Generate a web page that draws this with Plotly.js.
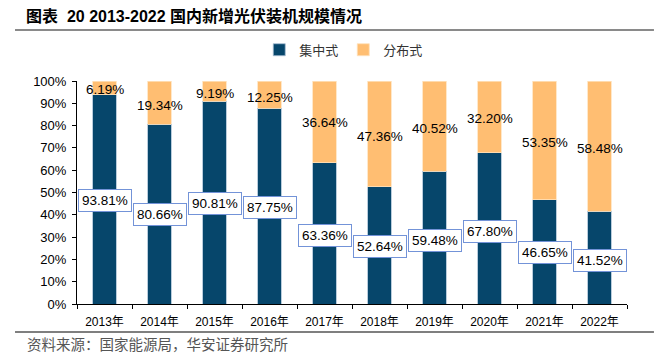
<!DOCTYPE html>
<html>
<head>
<meta charset="utf-8">
<script src="https://cdn.plot.ly/plotly-3.0.1.min.js"></script>
<style>html,body{margin:0;padding:0;background:#fff;}#chart{width:661px;height:357px;}</style>
</head>
<body>
<div id="chart"></div>
<script>
// Data
const years = ['2013年','2014年','2015年','2016年','2017年','2018年','2019年','2020年','2021年','2022年'];
const centralized = [93.81, 80.66, 90.81, 87.75, 63.36, 52.64, 59.48, 67.80, 46.65, 41.52];
const distributed = [6.19, 19.34, 9.19, 12.25, 36.64, 47.36, 40.52, 32.20, 53.35, 58.48];
const seriesNames = ['集中式', '分布式'];
const yTickVals = [0,10,20,30,40,50,60,70,80,90,100];

// Label placement (layout only, in axis units)
const centralLabelY = [46.6, 40.0, 45.1, 43.5, 30.9, 25.6, 28.7, 32.7, 22.9, 19.7];
const distLabelY = [96.0, 89.2, 94.6, 92.8, 81.2, 75.3, 78.9, 83.0, 72.4, 69.8];

const FONT = 'Liberation Sans, Arial, Noto Sans CJK SC, sans-serif';
const CJK = 'Liberation Sans, Noto Sans CJK SC, sans-serif';

const traces = [
  {type:'bar', name:seriesNames[0], x:years, y:centralized, width:0.42,
   marker:{color:'#06466b', line:{color:'#a8bfd3', width:0.8}}, hoverinfo:'skip'},
  {type:'bar', name:seriesNames[1], x:years, y:distributed, width:0.42,
   marker:{color:'#ffbe72', line:{color:'#ffe2bd', width:0.8}}, hoverinfo:'skip'}
];

const annotations = [];
years.forEach((yr, i) => {
  annotations.push({x:yr, y:centralLabelY[i], xref:'x', yref:'y', text:centralized[i].toFixed(2)+'%',
    showarrow:false, font:{family:FONT, size:13.5, color:'#000'}, bgcolor:'#fff',
    bordercolor:'#7393d8', borderwidth:1, borderpad:3});
  annotations.push({x:yr, y:distLabelY[i], xref:'x', yref:'y', text:distributed[i].toFixed(2)+'%',
    showarrow:false, font:{family:FONT, size:13.5, color:'#000'}});
});
annotations.push({x:-0.0945, y:-0.184, xref:'paper', yref:'paper', xanchor:'left', yanchor:'middle',
  text:'资料来源：国家能源局，华安证券研究所', showarrow:false,
  font:{family:CJK, size:14.5, color:'#555'}});

const layout = {
  width:661, height:357,
  margin:{l:77, r:34, t:81, b:53, pad:0},
  paper_bgcolor:'#fff', plot_bgcolor:'#fff',
  barmode:'stack',
  title:{text:'图表\u00a0\u00a020 2013-2022 国内新增光伏装机规模情况', x:26/661, xref:'container', xanchor:'left',
    y:1-16/357, yref:'container', yanchor:'middle',
    font:{family:CJK, size:16, color:'#000', weight:'bold'}},
  showlegend:true,
  legend:{orientation:'h', x:0.485, xanchor:'center', y:1.14, yanchor:'middle',
    font:{family:CJK, size:13, color:'#333'}, itemwidth:30,
    traceorder:'normal', bgcolor:'rgba(0,0,0,0)'},
  xaxis:{type:'category', showline:true, linecolor:'#000', linewidth:1, ticks:'outside', ticklen:4,
    tickcolor:'#000', tickson:'boundaries', showgrid:false, zeroline:false, ticklabelstandoff:7,
    tickfont:{family:CJK, size:12, color:'#000'}, fixedrange:true},
  yaxis:{range:[0,100], tickvals:yTickVals, ticktext:yTickVals.map(v=>v+'%'), showline:true, linecolor:'#000',
    linewidth:1, ticks:'outside', ticklen:4, tickcolor:'#000', showgrid:false, zeroline:false, ticklabelstandoff:3,
    tickfont:{family:FONT, size:13, color:'#000'}, fixedrange:true},
  shapes:[
    {type:'line', xref:'paper', yref:'paper', x0:-0.1127, x1:1.049, y0:1.2287, y1:1.2287, line:{color:'#8a8a8a', width:2}},
    {type:'line', xref:'paper', yref:'paper', x0:-0.1127, x1:1.049, y0:-0.1256, y1:-0.1256, line:{color:'#555', width:1.5}}
  ],
  annotations:annotations
};

Plotly.newPlot('chart', traces, layout, {displayModeBar:false, staticPlot:true});
</script>
</body>
</html>
